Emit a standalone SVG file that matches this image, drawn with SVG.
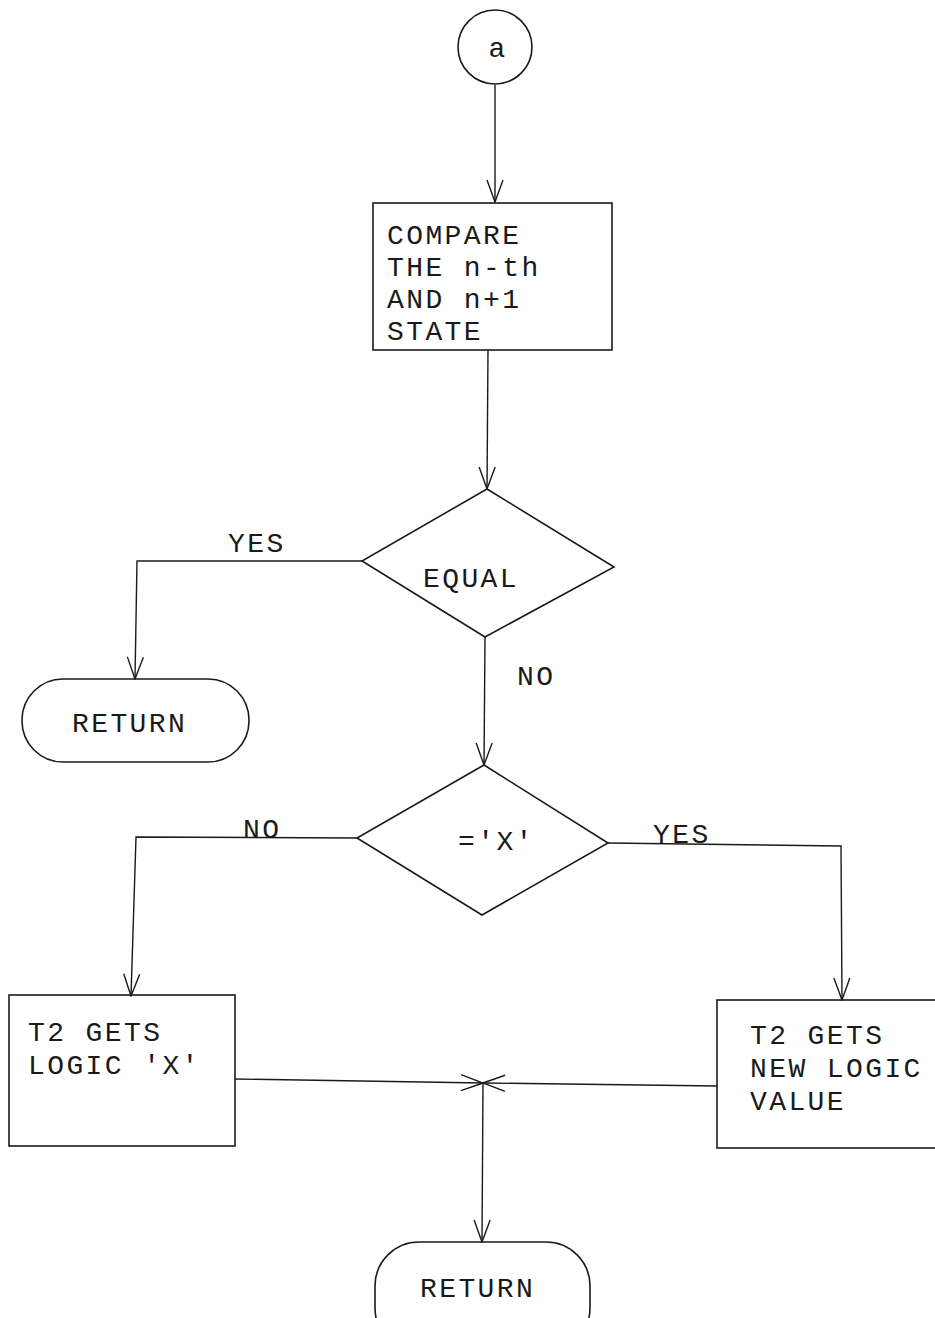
<svg xmlns="http://www.w3.org/2000/svg" width="935" height="1318" viewBox="0 0 935 1318">
<style>
.s{fill:none;stroke:#1a1a1a;stroke-width:1.6}
.t{font-family:"Liberation Mono","DejaVu Sans Mono",monospace;font-size:28px;letter-spacing:2.4px;fill:#1a1a1a}
.c{stroke:#1a1a1a;stroke-width:1.4;fill:none}
</style>
<defs>
<marker id="arr" markerUnits="userSpaceOnUse" markerWidth="24" markerHeight="20" viewBox="0 0 24 20" refX="23" refY="10" orient="auto">
<path d="M1,2 L23,10 L1,18" fill="none" stroke="#1a1a1a" stroke-width="1.4"/>
</marker>
</defs>
<rect width="935" height="1318" fill="#ffffff"/>
<g id="connectors">
<line class="c" x1="495" y1="85" x2="495" y2="202" marker-end="url(#arr)"/>
<line class="c" x1="488" y1="350" x2="487" y2="489" marker-end="url(#arr)"/>
<polyline class="c" points="362,561 137,561 135,679" marker-end="url(#arr)"/>
<line class="c" x1="485" y1="637" x2="484" y2="765" marker-end="url(#arr)"/>
<polyline class="c" points="357,838 136,837 131,996" marker-end="url(#arr)"/>
<polyline class="c" points="608,843 841,846 842,1000" marker-end="url(#arr)"/>
<line class="c" x1="235" y1="1079" x2="483" y2="1083" marker-end="url(#arr)"/>
<line class="c" x1="717" y1="1086" x2="483" y2="1083" marker-end="url(#arr)"/>
<line class="c" x1="483" y1="1083" x2="482" y2="1242" marker-end="url(#arr)"/>
<text class="t" x="228" y="552">YES</text>
<text class="t" x="517" y="685">NO</text>
<text class="t" x="243" y="838">NO</text>
<text class="t" x="653" y="843">YES</text>
</g>
<g id="start">
<circle class="s" cx="495" cy="47" r="37"/>
<text class="t" x="497" y="57" text-anchor="middle" style="letter-spacing:0">a</text>
</g>
<g id="compare">
<rect class="s" x="373" y="203" width="239" height="147"/>
<text class="t" x="387" y="244">COMPARE</text>
<text class="t" x="387" y="276">THE n-th</text>
<text class="t" x="387" y="308">AND n+1</text>
<text class="t" x="387" y="340">STATE</text>
</g>
<g id="equal">
<polygon class="s" points="487,489 614,567 485,637 362,561"/>
<text class="t" x="423" y="587">EQUAL</text>
</g>
<g id="return1">
<rect class="s" x="22" y="679" width="227" height="83" rx="41" ry="41"/>
<text class="t" x="72" y="732">RETURN</text>
</g>
<g id="isx">
<polygon class="s" points="484,765 608,843 482,915 357,838"/>
<text class="t" x="458" y="850">='X'</text>
</g>
<g id="logicx">
<rect class="s" x="9" y="995" width="226" height="151"/>
<text class="t" x="28" y="1041">T2 GETS</text>
<text class="t" x="28" y="1074">LOGIC 'X'</text>
</g>
<g id="newlogic">
<rect class="s" x="717" y="1000" width="240" height="148"/>
<text class="t" x="750" y="1044">T2 GETS</text>
<text class="t" x="750" y="1077">NEW LOGIC</text>
<text class="t" x="750" y="1110">VALUE</text>
</g>
<g id="return2">
<rect class="s" x="375" y="1242" width="215" height="110" rx="44" ry="44"/>
<text class="t" x="420" y="1297">RETURN</text>
</g>
</svg>
